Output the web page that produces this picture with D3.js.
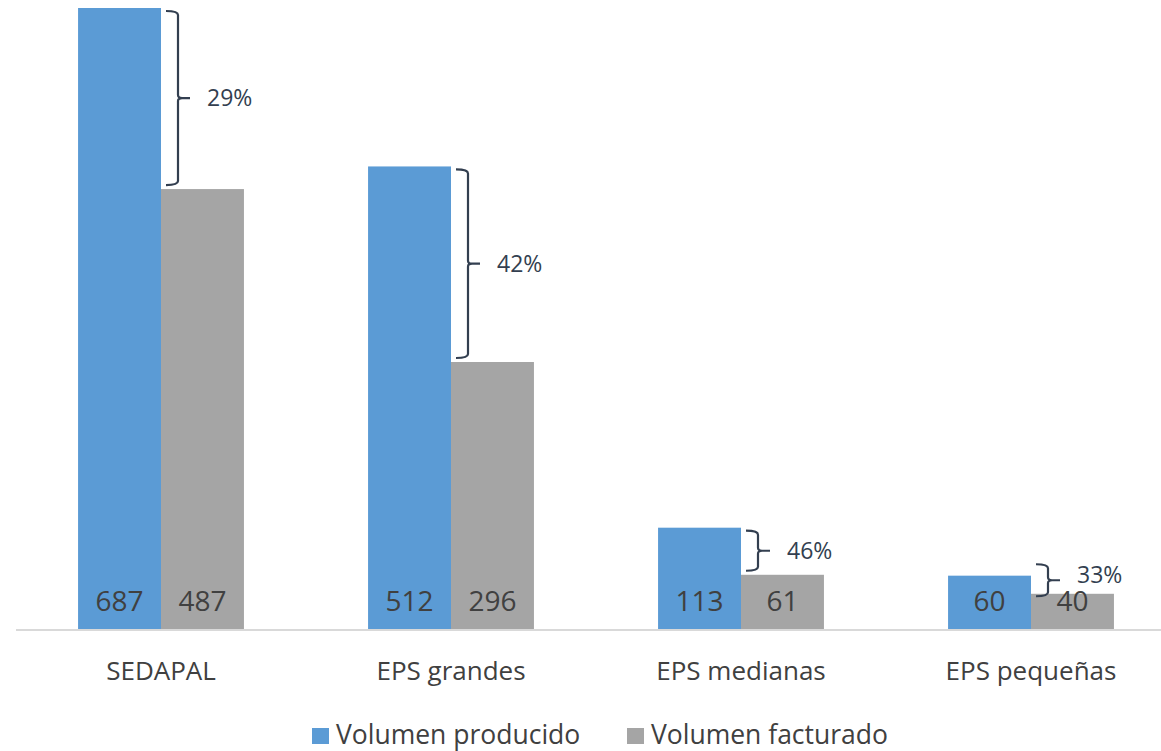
<!DOCTYPE html>
<html>
<head>
<meta charset="utf-8">
<script src="https://cdn.jsdelivr.net/npm/d3@7"></script>
<style>
  body { margin: 0; background: #fff; }
  svg text { font-family: "Open Sans", "Noto Sans", sans-serif; }
</style>
</head>
<body>
<svg id="chart" width="1161" height="751"></svg>
<script>
const categories = ["SEDAPAL", "EPS grandes", "EPS medianas", "EPS pequeñas"]
const producido = [687, 512, 113, 60]
const facturado = [487, 296, 61, 40]
const seriesNames = ["Volumen producido", "Volumen facturado"]
const colors = ["#5B9BD5", "#A5A5A5"]

const svg = d3.select("#chart")
const baseY = 630

const x = d3.scaleBand().domain(categories).range([16, 1176])
    .paddingInner(0.428).paddingOuter(0.214)
const xs = d3.scaleBand().domain([0, 1]).range([0, x.bandwidth()])
const y = d3.scaleLinear().domain([0, 687]).range([baseY, 8])

// bars
categories.forEach((c, i) => {
    const g = svg.append("g").attr("transform", `translate(${x(c)},0)`)
    const vals = [producido[i], facturado[i]]
    g.selectAll("rect").data(vals).join("rect")
        .attr("x", (d, j) => xs(j))
        .attr("width", xs.bandwidth())
        .attr("y", d => y(d))
        .attr("height", d => baseY - y(d))
        .attr("fill", (d, j) => colors[j])
    g.selectAll("text.val").data(vals).join("text")
        .attr("class", "val")
        .attr("x", (d, j) => xs(j) + xs.bandwidth() / 2)
        .attr("y", baseY - 19)
        .attr("text-anchor", "middle")
        .attr("font-size", 28)
        .attr("fill", "#404040")
        .text(d => d)
})

// axis
const xAxis = svg.append("g").attr("transform", `translate(0,${baseY})`)
    .call(d3.axisBottom(x).tickSize(0))
xAxis.select(".domain").attr("stroke", "#D9D9D9").attr("stroke-width", 2)
    .attr("d", "M16,0H1161")
xAxis.selectAll(".tick text").attr("font-size", 26).attr("fill", "#404040")
    .attr("font-family", "Open Sans").attr("dy", "0")
    .attr("y", 50)

// brackets
const bracketColor = "#333F50"
categories.forEach((c, i) => {
    let top = y(producido[i]) + 3
    let bot = y(facturado[i]) - 4
    if (bot - top < 32) {
        const mid = (top + bot) / 2 - 4
        top = mid - 16; bot = mid + 16
    }
    const x0 = x(c) + xs.bandwidth() + 5
    const xv = x0 + 12
    const mid = (top + bot) / 2
    const path = d3.path()
    path.moveTo(x0, top)
    path.quadraticCurveTo(xv, top, xv, top + 4)
    path.lineTo(xv, mid - 3)
    path.quadraticCurveTo(xv, mid, xv + 4, mid)
    path.lineTo(xv + 12, mid)
    path.moveTo(xv + 4, mid)
    path.quadraticCurveTo(xv, mid, xv, mid + 3)
    path.lineTo(xv, bot - 4)
    path.quadraticCurveTo(xv, bot, x0, bot)
    svg.append("path").attr("d", path.toString())
        .attr("fill", "none").attr("stroke", bracketColor).attr("stroke-width", 2.2)
    const pct = Math.round((producido[i] - facturado[i]) / producido[i] * 100)
    svg.append("text")
        .attr("x", xv + 29)
        .attr("y", i === 3 ? mid - 5 : mid)
        .attr("dy", "0.35em")
        .attr("font-size", 23)
        .attr("fill", bracketColor)
        .text(pct + "%")
})

// legend
const legend = svg.append("g").attr("transform", "translate(312,744)")
const legendX = [0, 315]
seriesNames.forEach((s, i) => {
    const lg = legend.append("g").attr("transform", `translate(${legendX[i]},0)`)
    lg.append("rect").attr("x", 0).attr("y", -16).attr("width", 17).attr("height", 16)
        .attr("fill", colors[i])
    lg.append("text").attr("x", 24).attr("y", 0)
        .attr("font-size", 26.5).attr("fill", "#404040").text(s)
})
</script>
</body>
</html>
